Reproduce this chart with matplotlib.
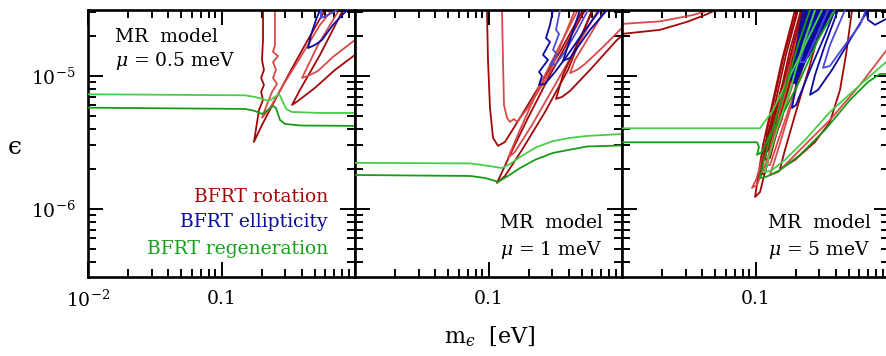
import matplotlib
matplotlib.use('Agg')
import matplotlib.pyplot as plt
from matplotlib.ticker import FixedLocator, FixedFormatter, LogLocator, NullFormatter

plt.rcParams['font.family'] = ['DejaVu Serif']
plt.rcParams['mathtext.fontset'] = 'dejavuserif'

# ---------------- axes / labels ----------------
x_range = [0.01, 1.0]
y_range = [3.08e-7, 3.13e-5]
x_major = [0.01, 0.1, 1.0]
x_ticklabels = [['$10^{-2}$', '0.1', ''], ['', '0.1', ''], ['', '0.1', '']]
y_major = [1e-6, 1e-5]
y_ticklabels = ['$10^{-6}$', '$10^{-5}$']
mu_values = ['0.5', '1', '5']
legend_labels = ['BFRT rotation', 'BFRT ellipticity', 'BFRT regeneration']
x_label = 'm$_{\u03f5}$  [eV]'
y_label = '\u03f5'

# ---------------- panel 1 (mu = 0.5 meV) ----------------
p1_regen_light_x = [0.01, 0.15, 0.178, 0.201, 0.223, 0.239, 0.270, 0.284, 0.305, 0.337, 0.547, 1.0]
p1_regen_light_y = [7.28e-6, 7.15e-6, 6.95e-6, 6.72e-6, 6.49e-6, 6.72e-6, 7.32e-6, 6.6e-6, 5.65e-6, 5.36e-6, 5.27e-6, 5.27e-6]
p1_regen_dark_x = [0.01, 0.150, 0.178, 0.201, 0.223, 0.243, 0.256, 0.274, 0.299, 0.387, 1.0]
p1_regen_dark_y = [5.77e-6, 5.65e-6, 5.45e-6, 5.18e-6, 5.55e-6, 5.95e-6, 5.74e-6, 4.67e-6, 4.36e-6, 4.24e-6, 4.21e-6]
p1_rot_a_x = [0.2046, 0.2046, 0.201, 0.208, 0.198, 0.208, 0.198, 0.2046, 0.191, 0.175, 0.201, 0.252, 0.326, 0.422, 0.596]
p1_rot_a_y = [3.13e-5, 1.865e-5, 1.32e-5, 1.11e-5, 9.66e-6, 8.56e-6, 7.58e-6, 6.6e-6, 5.55e-6, 3.19e-6, 4.28e-6, 6.6e-6, 1.07e-5, 1.71e-5, 3.13e-5]
p1_rot_b_x = [0.2516, 0.2516, 0.2431, 0.265, 0.2431, 0.256, 0.2431, 0.2605, 0.239, 0.223, 0.201, 0.2308, 0.299, 0.387, 0.547, 0.6725]
p1_rot_b_y = [3.13e-5, 1.71e-5, 1.52e-5, 1.41e-5, 1.27e-5, 1.11e-5, 9.66e-6, 8.71e-6, 7.58e-6, 6.38e-6, 4.84e-6, 5.74e-6, 9.01e-6, 1.365e-5, 2.42e-5, 3.13e-5]
p1_rot_c_x = [0.813, 0.547, 0.387, 0.3375, 0.374, 0.502, 0.708, 1.0]
p1_rot_c_y = [3.13e-5, 1.44e-5, 7.85e-6, 6.05e-6, 6.49e-6, 8.14e-6, 1.11e-5, 1.44e-5]
p1_rot_d_x = [0.759, 0.528, 0.4295, 0.4008, 0.4445, 0.528, 0.684, 1.0]
p1_rot_d_y = [3.13e-5, 1.71e-5, 1.11e-5, 9.66e-6, 1.0e-5, 1.09e-5, 1.39e-5, 1.865e-5]
p1_ell_a_x = [0.547, 0.510, 0.468, 0.4445, 0.5016, 0.566, 0.684, 0.871]
p1_ell_a_y = [3.13e-5, 2.64e-5, 2.03e-5, 1.62e-5, 1.71e-5, 1.865e-5, 2.42e-5, 3.13e-5]
p1_ell_b_x = [0.556, 0.556, 0.628, 0.733]
p1_ell_b_y = [3.13e-5, 2.73e-5, 2.87e-5, 3.13e-5]

# ---------------- panel 2 (mu = 1 meV) ----------------
p2_regen_light_x = [0.01, 0.0727, 0.1026, 0.1262, 0.1449, 0.1722, 0.2308, 0.305, 0.4078, 0.547, 1.0]
p2_regen_light_y = [2.22e-6, 2.20e-6, 2.10e-6, 2.03e-6, 2.18e-6, 2.46e-6, 2.93e-6, 3.24e-6, 3.42e-6, 3.54e-6, 3.66e-6]
p2_regen_dark_x = [0.01, 0.0727, 0.0941, 0.1179, 0.140, 0.1722, 0.223, 0.305, 0.547, 1.0]
p2_regen_dark_y = [1.80e-6, 1.77e-6, 1.71e-6, 1.60e-6, 1.77e-6, 2.03e-6, 2.34e-6, 2.64e-6, 2.95e-6, 3.0e-6]
p2_rot_a_x = [0.0974, 0.0991, 0.1026, 0.1081, 0.1179, 0.1329, 0.1722, 0.2431, 0.3433, 0.510]
p2_rot_a_y = [3.13e-5, 1.32e-5, 5.75e-6, 3.42e-6, 2.98e-6, 3.19e-6, 4.84e-6, 8.56e-6, 1.52e-5, 3.13e-5]
p2_rot_b_x = [0.1262, 0.1284, 0.1306, 0.1376, 0.1449, 0.1552, 0.1634, 0.2046, 0.2889, 0.4445]
p2_rot_b_y = [3.13e-5, 1.32e-5, 6.05e-6, 4.84e-6, 4.51e-6, 4.75e-6, 4.51e-6, 6.05e-6, 1.07e-5, 3.13e-5]
p2_rot_c_x = [0.5282, 0.4078, 0.2889, 0.1977, 0.1449, 0.1158, 0.1329, 0.1782, 0.265, 0.394, 0.596]
p2_rot_c_y = [3.13e-5, 1.93e-5, 1.017e-5, 4.84e-6, 2.55e-6, 1.57e-6, 1.77e-6, 2.78e-6, 5.36e-6, 1.11e-5, 3.13e-5]
p2_rot_d_x = [0.468, 0.3433, 0.2431, 0.1722, 0.140, 0.1579, 0.2118, 0.3149, 0.4445, 0.661]
p2_rot_d_y = [3.13e-5, 1.71e-5, 8.56e-6, 3.93e-6, 2.42e-6, 2.69e-6, 4.28e-6, 8.56e-6, 1.57e-5, 3.13e-5]
p2_rot_e_x = [0.6064, 0.4846, 0.3614, 0.3204, 0.3553, 0.4078, 0.5758, 0.9173, 1.0]
p2_rot_e_y = [3.13e-5, 1.93e-5, 1.017e-5, 6.72e-6, 6.95e-6, 7.71e-6, 1.11e-5, 1.865e-5, 2.0e-5]
p2_rot_f_x = [0.7458, 0.5758, 0.4445, 0.4078, 0.4601, 0.5282, 0.7205, 1.0]
p2_rot_f_y = [3.13e-5, 2.03e-5, 1.32e-5, 1.05e-5, 1.11e-5, 1.23e-5, 1.65e-5, 2.30e-5]
p2_ell_a_x = [0.3042, 0.2889, 0.2696, 0.2889, 0.256, 0.2791, 0.239, 0.2516, 0.239, 0.265, 0.3149, 0.387, 0.510, 0.6842]
p2_ell_a_y = [3.13e-5, 2.42e-5, 1.93e-5, 1.80e-5, 1.44e-5, 1.32e-5, 1.07e-5, 1.0e-5, 8.56e-6, 8.71e-6, 1.07e-5, 1.414e-5, 2.106e-5, 3.13e-5]
p2_ell_b_x = [0.3433, 0.3204, 0.3375, 0.3042, 0.326, 0.2889, 0.3204, 0.3741, 0.4601, 0.5565]
p2_ell_b_y = [3.13e-5, 2.22e-5, 2.07e-5, 1.57e-5, 1.46e-5, 1.21e-5, 1.23e-5, 1.52e-5, 2.18e-5, 3.13e-5]
p2_ell_c_x = [0.4846, 0.4078, 0.3614, 0.4078, 0.5758, 0.772]
p2_ell_c_y = [3.13e-5, 1.865e-5, 1.30e-5, 1.365e-5, 2.22e-5, 3.13e-5]

# ---------------- panel 3 (mu = 5 meV) ----------------
p3_regen_light_a_x = [0.01, 0.1081, 0.1138, 0.1329, 0.1752, 0.2349, 0.3149]
p3_regen_light_a_y = [4.04e-6, 4.04e-6, 4.36e-6, 5.36e-6, 9.33e-6, 1.71e-5, 3.13e-5]
p3_regen_dark_a_x = [0.01, 0.1026, 0.1062, 0.1026, 0.1119, 0.1284, 0.1663, 0.2154, 0.2939, 0.3940]
p3_regen_dark_a_y = [3.17e-6, 3.17e-6, 2.93e-6, 2.55e-6, 2.69e-6, 3.60e-6, 5.55e-6, 9.33e-6, 1.865e-5, 3.13e-5]
p3_regen_light_b_x = [0.2791, 0.2269, 0.1813, 0.1449, 0.1241, 0.1178, 0.1329, 0.1663, 0.2349, 0.3614, 0.6064, 0.9495]
p3_regen_light_b_y = [3.13e-5, 1.71e-5, 7.85e-6, 3.93e-6, 2.34e-6, 1.89e-6, 1.96e-6, 2.34e-6, 3.30e-6, 5.36e-6, 8.56e-6, 1.27e-5]
p3_regen_dark_b_x = [0.2560, 0.2082, 0.1692, 0.1376, 0.1158, 0.1081, 0.1199, 0.1526, 0.2154, 0.3316, 0.5105, 0.6961, 0.8562, 1.0]
p3_regen_dark_b_y = [3.13e-5, 1.71e-5, 8.56e-6, 4.28e-6, 2.34e-6, 1.71e-6, 1.74e-6, 1.96e-6, 2.55e-6, 3.93e-6, 6.60e-6, 9.01e-6, 1.035e-5, 1.035e-5]
p3_rot_top_dark_x = [0.01, 0.01926, 0.0307, 0.0418, 0.0506]
p3_rot_top_dark_y = [2.07e-5, 2.22e-5, 2.55e-5, 2.87e-5, 3.13e-5]
p3_rot_top_light_x = [0.01, 0.01926, 0.0340, 0.0456]
p3_rot_top_light_y = [2.46e-5, 2.57e-5, 2.87e-5, 3.13e-5]
p3_rot_a_x = [0.1977, 0.1579, 0.1329, 0.1138, 0.0992, 0.1081, 0.1241, 0.1474, 0.1813, 0.2154, 0.2431]
p3_rot_a_y = [3.13e-5, 1.32e-5, 6.05e-6, 3.03e-6, 1.23e-6, 1.34e-6, 2.34e-6, 4.67e-6, 1.017e-5, 1.865e-5, 3.13e-5]
p3_rot_b_x = [0.2389, 0.1877, 0.1526, 0.1241, 0.1009, 0.0941, 0.1026, 0.1241, 0.1552, 0.1977, 0.2560, 0.3042]
p3_rot_b_y = [3.13e-5, 1.44e-5, 6.60e-6, 3.30e-6, 1.65e-6, 1.44e-6, 1.515e-6, 2.42e-6, 4.67e-6, 9.66e-6, 2.03e-5, 3.13e-5]
p3_rot_c_x = [0.2082, 0.1692, 0.1424, 0.1220, 0.1081, 0.1178, 0.1352, 0.1607, 0.1977, 0.2349]
p3_rot_c_y = [3.13e-5, 1.44e-5, 6.60e-6, 3.30e-6, 1.80e-6, 1.86e-6, 3.30e-6, 6.60e-6, 1.44e-5, 3.13e-5]
p3_rot_d_x = [0.2192, 0.1813, 0.1526, 0.1306, 0.1178, 0.1284, 0.1474, 0.1752, 0.2154, 0.2560]
p3_rot_d_y = [3.13e-5, 1.57e-5, 7.20e-6, 3.93e-6, 2.34e-6, 2.42e-6, 4.07e-6, 7.85e-6, 1.71e-5, 3.13e-5]
p3_rot_e_x = [0.2560, 0.2046, 0.1692, 0.1400, 0.1199, 0.1284, 0.1526, 0.1877, 0.2349, 0.2939, 0.3149]
p3_rot_e_y = [3.13e-5, 1.57e-5, 7.85e-6, 3.93e-6, 2.14e-6, 2.14e-6, 3.60e-6, 6.60e-6, 1.365e-5, 2.64e-5, 3.13e-5]
p3_rot_f_x = [0.2046, 0.1635, 0.1376, 0.1199, 0.1262, 0.1474, 0.1813, 0.2230]
p3_rot_f_y = [3.13e-5, 1.44e-5, 6.60e-6, 3.60e-6, 3.47e-6, 6.38e-6, 1.365e-5, 3.13e-5]
p3_rot_g_x = [0.3316, 0.2560, 0.1977, 0.1663, 0.1526, 0.1977, 0.2791, 0.3614, 0.4295, 0.4763, 0.5282]
p3_rot_g_y = [3.13e-5, 1.21e-5, 5.09e-6, 2.78e-6, 2.00e-6, 2.34e-6, 3.19e-6, 4.51e-6, 7.85e-6, 1.44e-5, 3.13e-5]
p3_rot_h_x = [0.3042, 0.2349, 0.1813, 0.1474, 0.1284, 0.1474, 0.2154, 0.3614, 0.6064, 1.0]
p3_rot_h_y = [3.13e-5, 1.32e-5, 5.55e-6, 2.78e-6, 1.80e-6, 1.89e-6, 2.78e-6, 4.67e-6, 8.56e-6, 1.65e-5]
# densely packed rotation contours (outline of the saturated band)
p3_rot_band_x = [0.2269, 0.1813, 0.1220, 0.1119, 0.1284, 0.1579, 0.1877, 0.2154, 0.2473]
p3_rot_band_y = [3.13e-5, 1.32e-5, 3.60e-6, 2.55e-6, 2.78e-6, 4.67e-6, 1.035e-5, 1.71e-5, 3.13e-5]
p3_ell_a_x = [0.2650, 0.2349, 0.2046, 0.1877, 0.2011, 0.2560, 0.3316, 0.3940]
p3_ell_a_y = [3.13e-5, 1.57e-5, 9.33e-6, 5.74e-6, 6.05e-6, 1.11e-5, 2.03e-5, 3.13e-5]
p3_ell_b_x = [0.4150, 0.3316, 0.2791, 0.2560, 0.2939, 0.3741, 0.5105, 0.6961]
p3_ell_b_y = [3.13e-5, 1.71e-5, 1.017e-5, 7.20e-6, 7.85e-6, 1.11e-5, 1.865e-5, 3.13e-5]
p3_ell_c_x = [0.4682, 0.3614, 0.3204, 0.3614, 0.4682, 0.6064, 0.6725]
p3_ell_c_y = [3.13e-5, 1.71e-5, 1.15e-5, 1.19e-5, 1.71e-5, 2.42e-5, 3.13e-5]
p3_ell_d_x = [0.6725, 0.6961, 0.7855, 1.0]
p3_ell_d_y = [3.13e-5, 2.64e-5, 2.42e-5, 2.75e-5]
p3_ell_e_x = [0.2269, 0.2011, 0.1845, 0.1941, 0.2230, 0.2650]
p3_ell_e_y = [3.13e-5, 1.57e-5, 9.33e-6, 9.01e-6, 1.44e-5, 3.13e-5]
p3_ell_f_x = [0.2473, 0.2154, 0.1977, 0.2118, 0.2473, 0.2939]
p3_ell_f_y = [3.13e-5, 1.71e-5, 1.11e-5, 1.07e-5, 1.71e-5, 3.13e-5]
p3_ell_g_x = [0.2696, 0.2308, 0.2118, 0.2308, 0.2743, 0.3316]
p3_ell_g_y = [3.13e-5, 1.71e-5, 1.27e-5, 1.23e-5, 1.865e-5, 3.13e-5]
p3_ell_h_x = [0.2939, 0.2473, 0.2269, 0.2473, 0.3042, 0.3741]
p3_ell_h_y = [3.13e-5, 1.80e-5, 1.44e-5, 1.39e-5, 2.03e-5, 3.13e-5]
p3_ell_i_x = [0.2791, 0.2389, 0.2154, 0.2349, 0.2791, 0.3493]
p3_ell_i_y = [3.13e-5, 1.865e-5, 1.27e-5, 1.27e-5, 1.865e-5, 3.13e-5]
# densely packed ellipticity contours (outline of the saturated band)
p3_ell_band_x = [0.2349, 0.2046, 0.1845, 0.2011, 0.2308, 0.2791, 0.3806]
p3_ell_band_y = [3.13e-5, 1.57e-5, 9.01e-6, 8.71e-6, 1.21e-5, 1.865e-5, 3.13e-5]

# ---------------- styles ----------------
c_rot_dark = '#a30808'
c_rot_light = '#d84a4a'
c_ell_dark = '#0a0aa0'
c_ell_light = '#4a4ad6'
c_reg_dark = '#169c16'
c_reg_light = '#45cf45'
legend_colors = ['#a30808', '#0a0aa0', '#18a018']

curves = [
    # panel, x, y, color, zorder
    (0, p1_rot_a_x, p1_rot_a_y, c_rot_dark, 2),
    (0, p1_rot_b_x, p1_rot_b_y, c_rot_light, 2),
    (0, p1_rot_c_x, p1_rot_c_y, c_rot_dark, 2),
    (0, p1_rot_d_x, p1_rot_d_y, c_rot_light, 2),
    (0, p1_ell_a_x, p1_ell_a_y, c_ell_dark, 3),
    (0, p1_ell_b_x, p1_ell_b_y, c_ell_light, 3),
    (0, p1_regen_light_x, p1_regen_light_y, c_reg_light, 4),
    (0, p1_regen_dark_x, p1_regen_dark_y, c_reg_dark, 4),
    (1, p2_rot_a_x, p2_rot_a_y, c_rot_dark, 2),
    (1, p2_rot_b_x, p2_rot_b_y, c_rot_light, 2),
    (1, p2_rot_c_x, p2_rot_c_y, c_rot_dark, 2),
    (1, p2_rot_d_x, p2_rot_d_y, c_rot_light, 2),
    (1, p2_rot_e_x, p2_rot_e_y, c_rot_dark, 2),
    (1, p2_rot_f_x, p2_rot_f_y, c_rot_light, 2),
    (1, p2_ell_a_x, p2_ell_a_y, c_ell_dark, 3),
    (1, p2_ell_b_x, p2_ell_b_y, c_ell_light, 3),
    (1, p2_ell_c_x, p2_ell_c_y, c_ell_dark, 3),
    (1, p2_regen_light_x, p2_regen_light_y, c_reg_light, 4),
    (1, p2_regen_dark_x, p2_regen_dark_y, c_reg_dark, 4),
    (2, p3_rot_top_dark_x, p3_rot_top_dark_y, c_rot_dark, 2),
    (2, p3_rot_top_light_x, p3_rot_top_light_y, c_rot_light, 2),
    (2, p3_rot_a_x, p3_rot_a_y, c_rot_dark, 2),
    (2, p3_rot_b_x, p3_rot_b_y, c_rot_light, 2),
    (2, p3_rot_c_x, p3_rot_c_y, c_rot_dark, 2),
    (2, p3_rot_d_x, p3_rot_d_y, c_rot_dark, 2),
    (2, p3_rot_e_x, p3_rot_e_y, c_rot_light, 2),
    (2, p3_rot_f_x, p3_rot_f_y, c_rot_dark, 2),
    (2, p3_rot_g_x, p3_rot_g_y, c_rot_dark, 2),
    (2, p3_rot_h_x, p3_rot_h_y, c_rot_light, 2),
    (2, p3_ell_a_x, p3_ell_a_y, c_ell_dark, 3),
    (2, p3_ell_b_x, p3_ell_b_y, c_ell_dark, 3),
    (2, p3_ell_c_x, p3_ell_c_y, c_ell_light, 3),
    (2, p3_ell_d_x, p3_ell_d_y, c_ell_dark, 3),
    (2, p3_ell_e_x, p3_ell_e_y, c_ell_dark, 3),
    (2, p3_ell_f_x, p3_ell_f_y, c_ell_dark, 3),
    (2, p3_ell_g_x, p3_ell_g_y, c_ell_dark, 3),
    (2, p3_ell_h_x, p3_ell_h_y, c_ell_dark, 3),
    (2, p3_ell_i_x, p3_ell_i_y, c_ell_light, 3),
    (2, p3_regen_light_a_x, p3_regen_light_a_y, c_reg_light, 4),
    (2, p3_regen_dark_a_x, p3_regen_dark_a_y, c_reg_dark, 4),
    (2, p3_regen_light_b_x, p3_regen_light_b_y, c_reg_light, 4),
    (2, p3_regen_dark_b_x, p3_regen_dark_b_y, c_reg_dark, 4),
]

bands = [
    (2, p3_rot_band_x, p3_rot_band_y, c_rot_dark, 1.9),
    (2, p3_ell_band_x, p3_ell_band_y, c_ell_dark, 2.9),
]

W, H = 886, 356
fig = plt.figure(figsize=(W / 100, H / 100), dpi=100)
lefts = [88, 355, 622]
axes = [fig.add_axes([l / W, 79 / H, 267 / W, 267 / H]) for l in lefts]

for i, ax in enumerate(axes):
    ax.set_xscale('log')
    ax.set_yscale('log')
    ax.set_xlim(x_range)
    ax.set_ylim(y_range)
    ax.xaxis.set_major_locator(FixedLocator(x_major))
    ax.xaxis.set_major_formatter(FixedFormatter(x_ticklabels[i]))
    ax.xaxis.set_minor_locator(LogLocator(base=10, subs=range(2, 10)))
    ax.xaxis.set_minor_formatter(NullFormatter())
    ax.yaxis.set_major_locator(FixedLocator(y_major))
    if i == 0:
        ax.yaxis.set_major_formatter(FixedFormatter(y_ticklabels))
    else:
        ax.yaxis.set_major_formatter(NullFormatter())
    ax.yaxis.set_minor_locator(LogLocator(base=10, subs=range(2, 10)))
    ax.yaxis.set_minor_formatter(NullFormatter())
    ax.tick_params(which='both', direction='in', top=True, right=True,
                   labelsize=13.5, width=1.4, color='black')
    ax.tick_params(which='major', length=10.5, pad=9)
    ax.tick_params(which='minor', length=5.5)
    for s in ax.spines.values():
        s.set_linewidth(1.9)

for (p, xs, ys, col, z) in bands:
    axes[p].fill(xs, ys, color=col, lw=0.8, zorder=z)

for (p, xs, ys, col, z) in curves:
    axes[p].plot(xs, ys, color=col, lw=1.3, zorder=z, solid_joinstyle='round')

txt_kw = dict(fontsize=13.5, color='black')
axes[0].text(0.101, 0.899, 'MR  model', transform=axes[0].transAxes, ha='left', va='center', **txt_kw)
axes[0].text(0.101, 0.810, r'$\mu$ = %s meV' % mu_values[0], transform=axes[0].transAxes, ha='left', va='center', **txt_kw)
for i, xpos in [(1, 0.543), (2, 0.547)]:
    axes[i].text(xpos, 0.202, 'MR  model', transform=axes[i].transAxes, ha='left', va='center', **txt_kw)
    axes[i].text(xpos, 0.101, r'$\mu$ = %s meV' % mu_values[i], transform=axes[i].transAxes, ha='left', va='center', **txt_kw)

for lab, col, yy in zip(legend_labels, legend_colors, [0.300, 0.206, 0.105]):
    axes[0].text(0.899, yy, lab, transform=axes[0].transAxes, ha='right', va='center',
                 fontsize=13.5, color=col)

fig.text(15 / W, 1 - 147 / H, y_label, ha='center', va='center', fontsize=18)
fig.text(490 / W, 1 - 337 / H, x_label, ha='center', va='center', fontsize=16)

fig.savefig('out.png', dpi=100)
